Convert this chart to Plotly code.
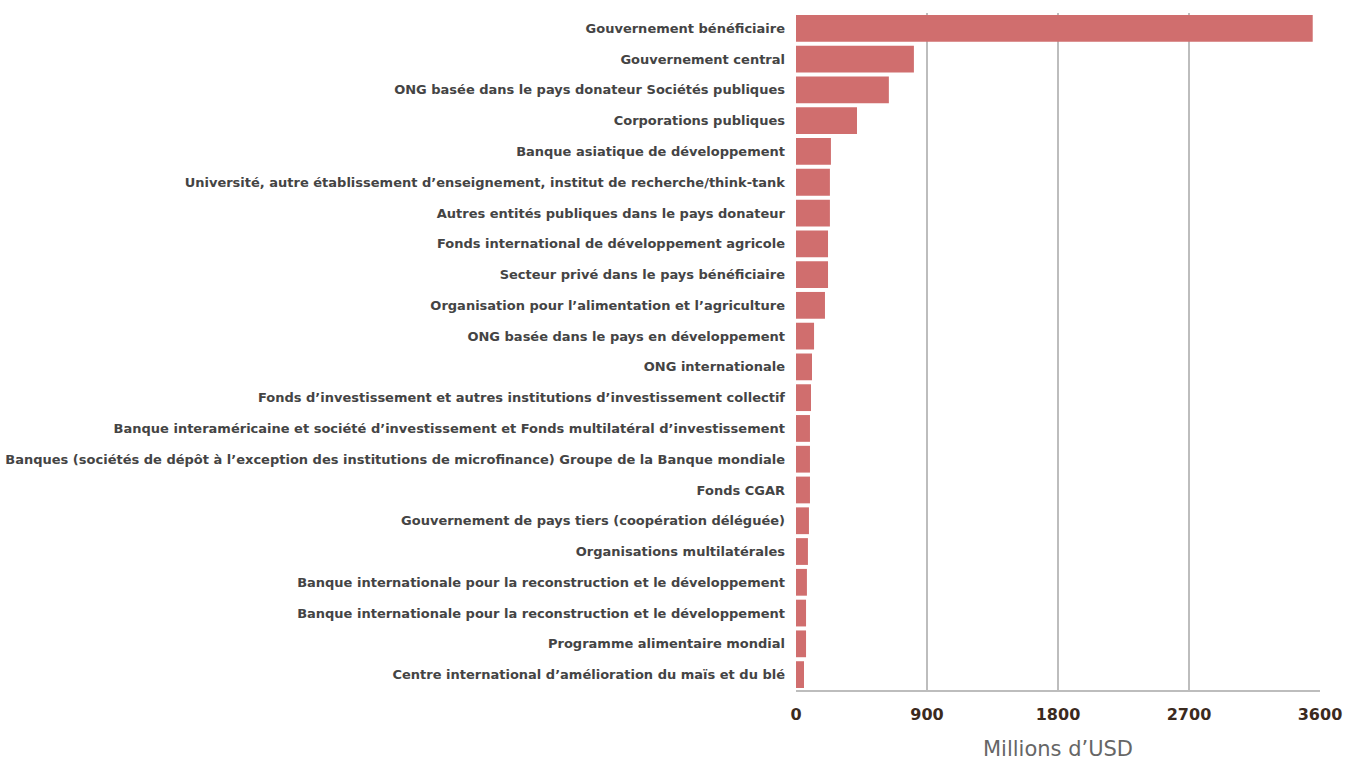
import plotly.graph_objects as go

categories = [
    "Gouvernement bénéficiaire",
    "Gouvernement central",
    "ONG basée dans le pays donateur Sociétés publiques",
    "Corporations publiques",
    "Banque asiatique de développement",
    "Université, autre établissement d’enseignement, institut de recherche/think-tank",
    "Autres entités publiques dans le pays donateur",
    "Fonds international de développement agricole",
    "Secteur privé dans le pays bénéficiaire",
    "Organisation pour l’alimentation et l’agriculture",
    "ONG basée dans le pays en développement",
    "ONG internationale",
    "Fonds d’investissement et autres institutions d’investissement collectif",
    "Banque interaméricaine et société d’investissement et Fonds multilatéral d’investissement",
    "Banques (sociétés de dépôt à l’exception des institutions de microfinance) Groupe de la Banque mondiale",
    "Fonds CGAR",
    "Gouvernement de pays tiers (coopération déléguée)",
    "Organisations multilatérales",
    "Banque internationale pour la reconstruction et le développement",
    "Banque internationale pour la reconstruction et le développement",
    "Programme alimentaire mondial",
    "Centre international d’amélioration du maïs et du blé",
]
values = [3550, 810, 638, 419, 240, 233, 233, 220, 220, 199, 124, 110,
          103, 96, 96, 96, 89, 82, 75, 69, 69, 55]
x_ticks = [0, 900, 1800, 2700, 3600]
x_title = "Millions d’USD"

positions = list(range(len(categories)))

fig = go.Figure(go.Bar(
    x=values,
    y=positions,
    orientation="h",
    marker=dict(color="#d06e6e", line=dict(width=0)),
    width=0.87,
))

fig.update_layout(
    width=1347, height=763,
    margin=dict(l=796, r=27, t=13, b=73),
    plot_bgcolor="white",
    paper_bgcolor="white",
    showlegend=False,
    font=dict(family="DejaVu Sans", color="#444444"),
)
fig.update_xaxes(
    range=[0, 3600],
    tickvals=x_ticks,
    ticktext=[str(v) for v in x_ticks],
    showgrid=True, gridcolor="#bdbdbd", gridwidth=1.5,
    zeroline=False,
    showline=True, linecolor="#bdbdbd", linewidth=2,
    tickfont=dict(family="DejaVu Sans", size=16, color="#3b2a1e", weight="bold"),
    ticklabelstandoff=9,
    automargin=False,
    title=dict(text=x_title, font=dict(family="DejaVu Sans", size=21, color="#666666"), standoff=18),
)
fig.update_yaxes(
    tickvals=positions,
    ticktext=categories,
    range=[len(categories) - 0.5, -0.5],
    showgrid=False, zeroline=False, showline=False,
    tickfont=dict(family="DejaVu Sans", size=13, color="#444444", weight="bold"),
    ticklabelstandoff=10,
    automargin=False,
)

fig.write_html("out.html", config={"displayModeBar": False},
               post_script="document.body.style.margin='0px';")
